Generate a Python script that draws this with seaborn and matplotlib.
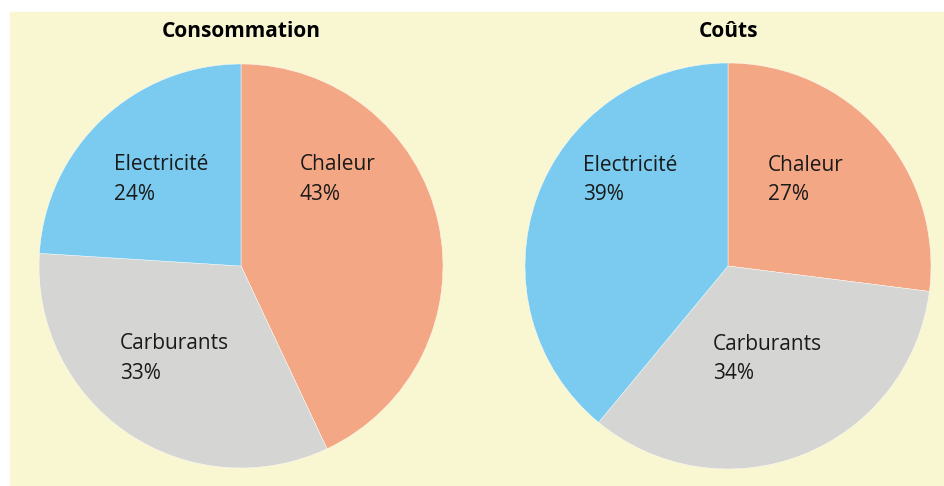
import matplotlib
matplotlib.use('Agg')
import matplotlib.pyplot as plt
import seaborn as sns
from matplotlib.patches import Rectangle

# data
categories = ['Chaleur', 'Carburants', 'Electricité']
consommation = [43, 33, 24]
couts = [27, 34, 39]
titles = ['Consommation', 'Coûts']

sns.set_style('white')
plt.rcParams['font.family'] = ['Open Sans', 'DejaVu Sans']

colors = ['#F4A784', '#D5D5D3', '#7ACBEF']
bg = '#F9F6D2'

fig = plt.figure(figsize=(9.44, 4.86), dpi=100)
fig.patch.set_facecolor('white')
fig.add_artist(Rectangle((10 / 944, 0), 1 - 10 / 944, 1 - 12 / 486,
                         transform=fig.transFigure, color=bg, zorder=0))

# pie boxes: centre x, centre y, radius (pixels)
boxes = [(241, 266, 202), (728, 266, 203)]
# label anchor (left edge, last baseline) in pie units
label_pos = [
    {'Chaleur': (0.292, 0.327), 'Carburants': (-0.599, -0.559), 'Electricité': (-0.629, 0.327)},
    {'Chaleur': (0.197, 0.325), 'Carburants': (-0.074, -0.557), 'Electricité': (-0.714, 0.325)},
]

for values, title, (cx, cy, r), pos in zip([consommation, couts], titles, boxes, label_pos):
    ax = fig.add_axes([(cx - r) / 944, (486 - cy - r) / 486, 2 * r / 944, 2 * r / 486])
    ax.pie(values, colors=colors, startangle=90, counterclock=False,
           wedgeprops={'edgecolor': 'white', 'linewidth': 0.3})
    ax.set_xlim(-1, 1)
    ax.set_ylim(-1, 1)
    ax.set_facecolor('none')
    ax.axis('off')
    for cat, val in zip(categories, values):
        x, y = pos[cat]
        ax.text(x, y, f'{cat}\n{val}%', ha='left', va='baseline',
                fontsize=15, color='#1a1a1a', linespacing=1.53)
    ax.text(0, (cy - 37) / r, title, ha='center', va='baseline',
            fontsize=15, fontweight='bold', color='black', clip_on=False)

plt.savefig('out.png', dpi=100, facecolor=fig.get_facecolor())
